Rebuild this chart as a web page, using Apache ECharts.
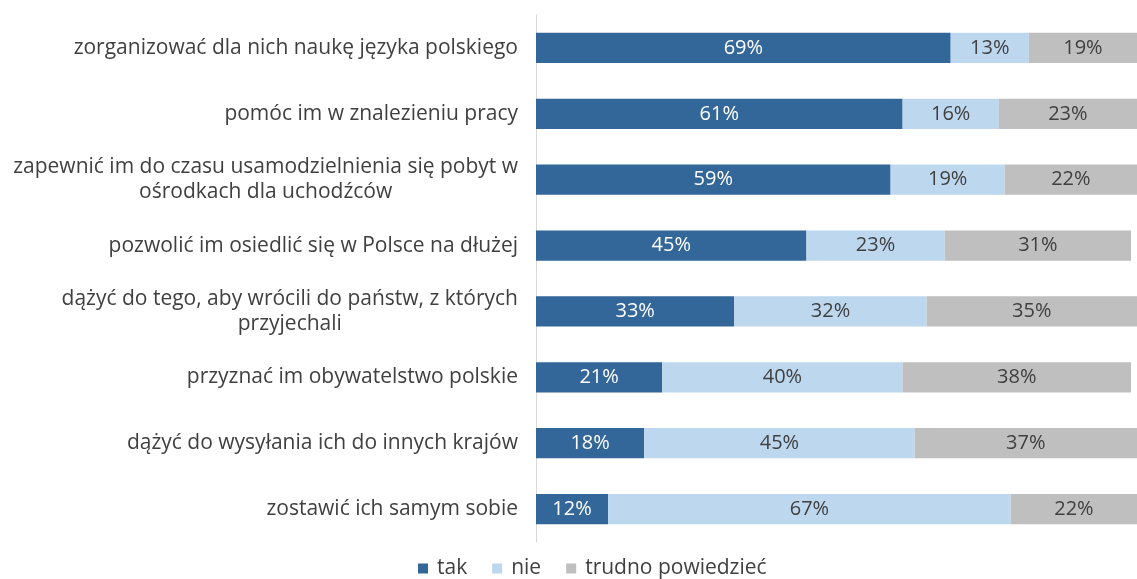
<!DOCTYPE html>
<html>
<head>
<meta charset="utf-8">
<script src="https://cdn.jsdelivr.net/npm/echarts@6/dist/echarts.min.js"></script>
<style>
  html, body { margin: 0; padding: 0; background: #fff; }
  #chart { width: 1137px; height: 579px; }
</style>
</head>
<body>
<div id="chart"></div>
<script>
const categories = [
    "zorganizować dla nich naukę języka polskiego",
    "pomóc im w znalezieniu pracy",
    "zapewnić im do czasu usamodzielnienia się pobyt w\nośrodkach dla uchodźców",
    "pozwolić im osiedlić się w Polsce na dłużej",
    "dążyć do tego, aby wrócili do państw, z których\nprzyjechali",
    "przyznać im obywatelstwo polskie",
    "dążyć do wysyłania ich do innych krajów",
    "zostawić ich samym sobie"
];
const tak = [69, 61, 59, 45, 33, 21, 18, 12];
const nie = [13, 16, 19, 23, 32, 40, 45, 67];
const trudno = [19, 23, 22, 31, 35, 38, 37, 22];
const seriesNames = ["tak", "nie", "trudno powiedzieć"];
const colors = ["#336699", "#bdd7ee", "#bfbfbf"];

const FONT = "Open Sans";
const textColor = "#404040";

let chart = echarts.init(document.getElementById("chart"));

const makeSeries = (name, data, color, labelColor) => ({
    name: name,
    type: "bar",
    stack: "all",
    data: data,
    barWidth: "46%",
    itemStyle: { color: color },
    label: {
        show: true,
        position: "inside",
        formatter: "{c}%",
        color: labelColor,
        fontFamily: FONT,
        fontSize: 20
    },
    emphasis: { disabled: true }
});

const option = {
    animation: false,
    color: colors,
    grid: { left: 536, top: 15, width: 603, height: 527 },
    legend: {
        top: 553,
        left: 413,
        icon: "rect",
        itemWidth: 10,
        itemHeight: 10,
        itemGap: 25,
        textStyle: { fontFamily: FONT, fontSize: 21, color: textColor, padding: [0, 0, 0, 4] },
        data: seriesNames
    },
    xAxis: {
        type: "value",
        min: 0,
        max: 100,
        show: false
    },
    yAxis: {
        type: "category",
        inverse: true,
        data: categories,
        axisTick: { show: false },
        axisLine: { lineStyle: { color: "#d9d9d9", width: 1 } },
        axisLabel: {
            margin: 18,
            fontFamily: FONT,
            fontSize: 21,
            color: textColor,
            lineHeight: 25,
            formatter: v => v.split("\n").map(s => "{c|" + s + "}").join("\n"),
            rich: {
                c: { align: "center", fontFamily: FONT, fontSize: 21, color: textColor, lineHeight: 25 }
            }
        }
    },
    series: [
        makeSeries(seriesNames[0], tak, colors[0], "#ffffff"),
        makeSeries(seriesNames[1], nie, colors[1], textColor),
        makeSeries(seriesNames[2], trudno, colors[2], textColor)
    ]
};

chart.setOption(option);
</script>
</body>
</html>
